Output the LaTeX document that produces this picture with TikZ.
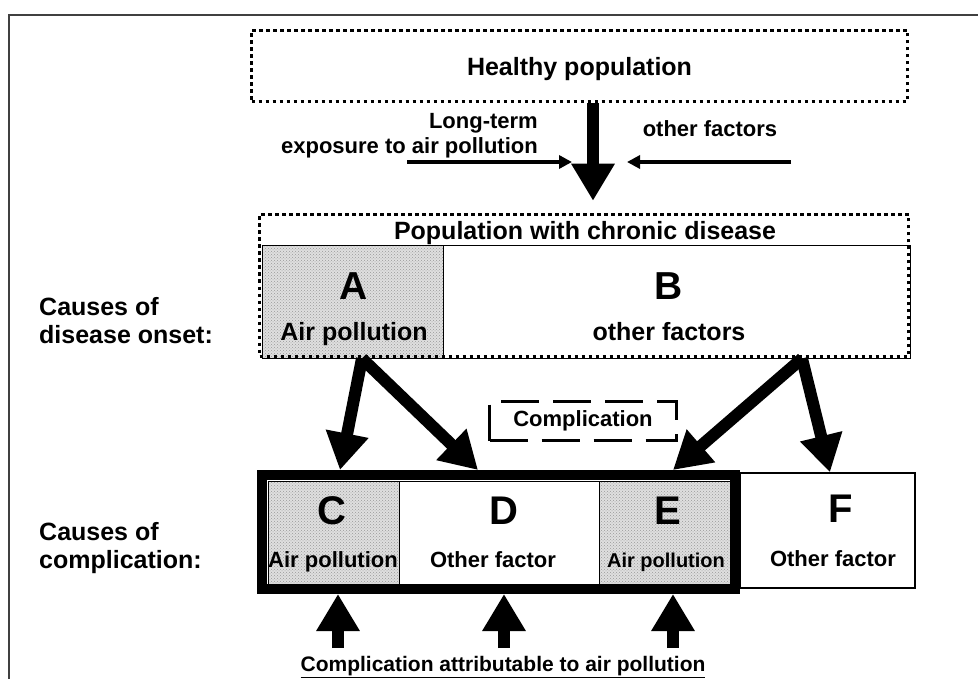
\documentclass[tikz,border=0pt]{standalone}
\usepackage{fontspec}
\setmainfont{Liberation Sans}
\usetikzlibrary{arrows.meta, patterns}

\begin{document}
\begin{tikzpicture}[x=1pt, y=-1pt, font=\bfseries,
  dotbox/.style={draw, rectangle, line width=3.5pt, dash pattern=on 3.5pt off 3.5pt, inner sep=0pt},
  dashbox/.style={draw, rectangle, line width=3pt, dash pattern=on 38pt off 14pt, inner sep=0pt},
  cell/.style={draw, rectangle, line width=1pt, inner sep=0pt},
  airfill/.style={preaction={fill=gray!25}, pattern=crosshatch dots, pattern color=gray!80},
  bigarrow/.style={line width=12pt, -{Triangle[length=37pt, width=41pt]}},
  thinarrow/.style={line width=4pt, -{Triangle[length=13pt, width=13pt]}},
  letter/.style={anchor=base, inner sep=0pt, font=\fontsize{40}{40}\selectfont\bfseries},
  txt/.style={anchor=base, inner sep=0pt, font=\fontsize{22}{25}\selectfont\bfseries},
  bigtxt/.style={anchor=base, inner sep=0pt, font=\fontsize{25}{28}\selectfont\bfseries}]
  \useasboundingbox (0,0) rectangle (978,679);
  \draw[line width=2pt, black!75] (978,15) -- (9,15) -- (9,679);

  \node[dotbox, minimum width=656pt, minimum height=71pt, text depth=0pt,
        font=\fontsize{25}{25}\selectfont\bfseries] (healthy) at (579.5,66) {Healthy population};
  \node[txt, anchor=north east, align=right] (expoLbl) at (538,113) {Long-term\\exposure to air pollution};
  \node[txt] (othLbl) at (710,137) {other factors};
  \coordinate (expo) at (407,162);
  \coordinate (expoEnd) at (572,162);
  \coordinate (oth) at (791,162);
  \coordinate (othEnd) at (627,162);

  \node[cell, airfill, minimum width=181pt, minimum height=112pt] (boxA) at (352.5,302) {};
  \node[cell, minimum width=467pt, minimum height=112pt] (boxB) at (676.5,302) {};
  \node[dotbox, minimum width=649pt, minimum height=142pt] (chronic) at (584,285.5) {};
  \node[bigtxt] (chronicLbl) at (585,240) {Population with chronic disease};
  \node[letter, font=\fontsize{39}{39}\selectfont\bfseries] (labA) at (354,300) {A};
  \node[bigtxt] (airA) at (354,341) {Air pollution};
  \node[letter, font=\fontsize{39}{39}\selectfont\bfseries] (labB) at (669,300) {B};
  \node[bigtxt] (othB) at (669,341) {other factors};

  \node[bigtxt, anchor=north west, align=left] (onsetLbl) at (39,297) {Causes of\\disease onset:};
  \node[bigtxt, anchor=north west, align=left] (complLbl) at (39,522) {Causes of\\complication:};

  \node[dashbox, minimum width=187pt, minimum height=39pt,
        font=\fontsize{22}{22}\selectfont\bfseries] (compl) at (583,421) {Complication};

  \node[cell, airfill, minimum width=131pt, minimum height=103pt] (boxC) at (333.5,532.5) {};
  \node[cell, minimum width=200pt, minimum height=103pt] (boxD) at (499,532.5) {};
  \node[cell, airfill, minimum width=132pt, minimum height=103pt] (boxE) at (665,532.5) {};
  \node[draw, rectangle, line width=10pt, inner sep=0pt, minimum width=473pt, minimum height=114pt] (frameCE) at (498.5,532) {};
  \node[cell, line width=1.5pt, minimum width=175pt, minimum height=115pt] (boxF) at (827.5,530.5) {};
  \node[letter] (labC) at (332,524) {C};
  \node[txt] (airC) at (333,567) {Air pollution};
  \node[letter] (labD) at (504,524) {D};
  \node[txt] (othD) at (493,567) {Other factor};
  \node[letter] (labE) at (668,524) {E};
  \node[txt, font=\fontsize{20}{20}\selectfont\bfseries] (airE) at (666,567) {Air pollution};
  \node[letter] (labF) at (841,522) {F};
  \node[txt] (othF) at (833,566) {Other factor};

  \coordinate (upC) at (338,648);
  \coordinate (upD) at (504,648);
  \coordinate (upE) at (673,648);
  \node[txt, font=\fontsize{21}{21}\selectfont\bfseries] (attrLbl) at (503,671)
    {\underline{Complication attributable to air pollution}};

  \path[thinarrow]
    (expo) edge (expoEnd)
    (oth) edge (othEnd);
  \path[bigarrow]
    ([xshift=13.5pt]healthy.south) edge [shorten >=12pt] ([xshift=9pt]chronic.north)
    ([xshift=9.5pt]boxA.south) edge ([xshift=-158.5pt]frameCE.north)
                               edge ([xshift=-20.5pt]frameCE.north)
    ([xshift=125.5pt]boxB.south) edge ([xshift=174.5pt]frameCE.north)
                                 edge ([xshift=2.5pt]boxF.north)
    (upC) edge (upC |- frameCE.south)
    (upD) edge (upD |- frameCE.south)
    (upE) edge (upE |- frameCE.south);
\end{tikzpicture}
\end{document}
